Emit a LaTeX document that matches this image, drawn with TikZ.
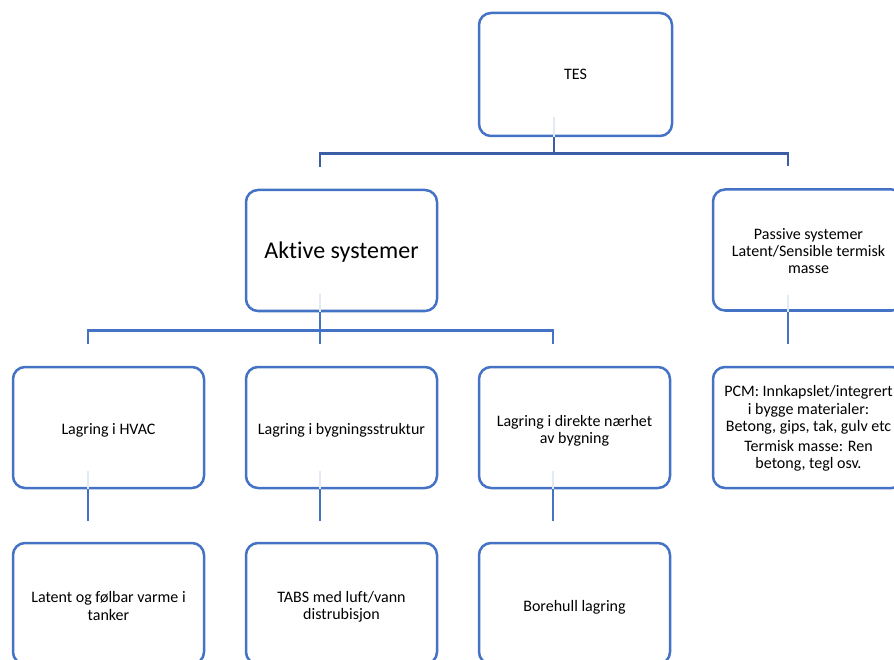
\documentclass[tikz,border=0pt]{standalone}
\usepackage{fontspec}
\setmainfont{Carlito}[Ligatures=NoCommon]
\definecolor{boxblue}{HTML}{4472C4}
\definecolor{linkdark}{HTML}{3B5EA6}
\definecolor{faintblue}{HTML}{E3E9F5}
\newcommand\lowertxt[1]{\rule{0pt}{#1}}
\begin{document}
\begin{tikzpicture}[x=1pt,y=-1pt,
  box/.style={draw=boxblue, line width=2.5pt, rounded corners=12pt, fill=white,
    minimum width=191pt, minimum height=121pt, align=center, inner sep=0pt,
    text=black, text depth=0pt, font=\fontsize{16}{17.2}\selectfont},
  link/.style={draw=boxblue, line width=2.6pt},
  toplink/.style={draw=linkdark, line width=2.6pt},
  fade/.style={draw=faintblue, line width=2.6pt}]
\useasboundingbox (0,0) rectangle (894,660);
\clip (0,0) rectangle (894,660);

% nodes
\node[box, minimum width=193pt, minimum height=123pt] (tes) at (575.5,74.5) {TES};
\node[box, font=\fontsize{24}{28}\selectfont, text depth=1pt] (akt) at (341.5,250.5) {Aktive systemer};
\node[box] (pas) at (808.5,250) {\lowertxt{13.5pt}Passive systemer\\Latent/Sensible termisk\\masse};
\node[box] (hvac) at (108.5,427.5) {\lowertxt{13pt}Lagring i HVAC};
\node[box] (byg) at (341.5,427.5) {\lowertxt{13pt}Lagring i bygningsstruktur};
\node[box] (naer) at (574.5,427.5) {\lowertxt{15pt}Lagring i direkte nærhet\\av bygning};
\node[box, text depth=0.5pt] (pcm) at (808.5,427.5) {PCM: Innkapslet/integrert\\i bygge materialer:\\Betong, gips, tak, gulv etc\\[3pt]Termisk masse: Ren\\betong, tegl osv.};
\node[box] (tank) at (108.5,603.5) {\lowertxt{16pt}Latent og følbar varme i\\tanker};
\node[box] (tabs) at (341.5,603.5) {\lowertxt{15pt}TABS med luft/vann\\distrubisjon};
\node[box] (bore) at (574.5,603.5) {\lowertxt{15pt}Borehull lagring};

% top level connectors
\draw[fade] ([xshift=-21.5pt,yshift=20pt]tes.south) -- ([xshift=-21.5pt]tes.south);
\draw[toplink] ([xshift=-21.5pt]tes.south) -- ++(0,16) coordinate (tesbus);
\draw[toplink] ([xshift=-21.5pt,yshift=22pt]akt.north) |- (tesbus) -| ([xshift=-20.5pt,yshift=22pt]pas.north);

% Aktive connectors
\draw[fade] ([xshift=-21.5pt,yshift=18pt]akt.south) -- ([xshift=-21.5pt]akt.south);
\draw[link] ([xshift=-21.5pt]akt.south) -- ++(0,18) coordinate (aktbus);
\draw[link] ([xshift=-20.5pt,yshift=22pt]hvac.north) |- (aktbus) -| ([xshift=-21.5pt,yshift=22pt]naer.north);
\draw[link] (aktbus) -- ([xshift=-21.5pt,yshift=22pt]byg.north);

% Passive connector
\draw[fade] ([xshift=-20.5pt,yshift=17pt]pas.south) -- ([xshift=-20.5pt]pas.south);
\draw[link] ([xshift=-20.5pt]pas.south) -- ([xshift=-20.5pt,yshift=22pt]pcm.north);

% level 2 to level 3
\draw[fade] ([xshift=-20.5pt,yshift=18pt]hvac.south) -- ([xshift=-20.5pt]hvac.south);
\draw[link] ([xshift=-20.5pt]hvac.south) -- ([xshift=-20.5pt,yshift=21pt]tank.north);
\draw[fade] ([xshift=-21.5pt,yshift=18pt]byg.south) -- ([xshift=-21.5pt]byg.south);
\draw[link] ([xshift=-21.5pt]byg.south) -- ([xshift=-21.5pt,yshift=21pt]tabs.north);
\draw[fade] ([xshift=-21.5pt,yshift=18pt]naer.south) -- ([xshift=-21.5pt]naer.south);
\draw[link] ([xshift=-21.5pt]naer.south) -- ([xshift=-21.5pt,yshift=21pt]bore.north);
\end{tikzpicture}
\end{document}
